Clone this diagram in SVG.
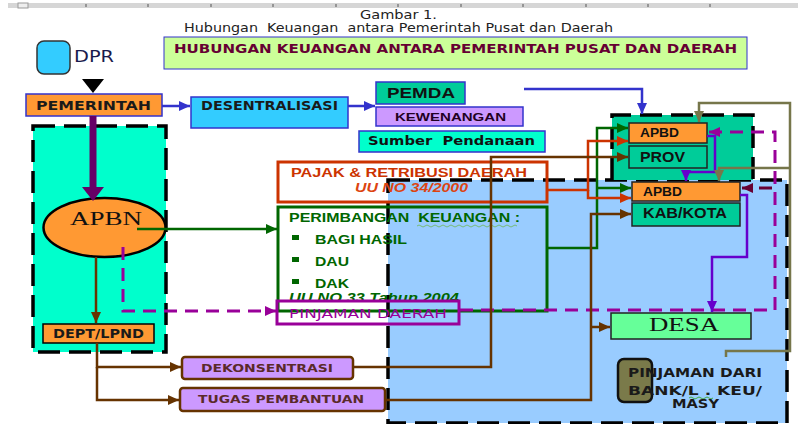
<svg xmlns="http://www.w3.org/2000/svg" width="798" height="424" viewBox="0 0 798 424">
<style>
.sans{font-family:"DejaVu Sans","Verdana",sans-serif}
.arial{font-family:"Liberation Sans","Arial",sans-serif}
.serif{font-family:"Liberation Serif","Times New Roman",serif}
.b{font-weight:bold}
.region{stroke:#000;stroke-width:3.5;stroke-dasharray:22 9}
.ln{fill:none;stroke-width:2.5}
.dash{fill:none;stroke-width:3;stroke-dasharray:13 8}
</style>
<defs>
<marker id="mBlue" markerUnits="userSpaceOnUse" markerWidth="12" markerHeight="10" refX="11" refY="5" orient="auto"><path d="M0,0 L11,5 L0,10 z" fill="#3333cc"/></marker>
<marker id="mGreen" markerUnits="userSpaceOnUse" markerWidth="12" markerHeight="10" refX="11" refY="5" orient="auto"><path d="M0,0 L11,5 L0,10 z" fill="#006600"/></marker>
<marker id="mBrown" markerUnits="userSpaceOnUse" markerWidth="12" markerHeight="10" refX="11" refY="5" orient="auto"><path d="M0,0 L11,5 L0,10 z" fill="#663300"/></marker>
<marker id="mRed" markerUnits="userSpaceOnUse" markerWidth="12" markerHeight="10" refX="11" refY="5" orient="auto"><path d="M0,0 L11,5 L0,10 z" fill="#cc3300"/></marker>
<marker id="mMag" markerUnits="userSpaceOnUse" markerWidth="12" markerHeight="10" refX="11" refY="5" orient="auto"><path d="M0,0 L11,5 L0,10 z" fill="#990099"/></marker>
<marker id="mMaroon" markerUnits="userSpaceOnUse" markerWidth="12" markerHeight="10" refX="11" refY="5" orient="auto"><path d="M0,0 L11,5 L0,10 z" fill="#660033"/></marker>
<marker id="mViolet" markerUnits="userSpaceOnUse" markerWidth="12" markerHeight="10" refX="11" refY="5" orient="auto"><path d="M0,0 L11,5 L0,10 z" fill="#6600cc"/></marker>
<marker id="mOlive" markerUnits="userSpaceOnUse" markerWidth="12" markerHeight="10" refX="11" refY="5" orient="auto"><path d="M0,0 L11,5 L0,10 z" fill="#76764a"/></marker>
</defs>
<rect width="798" height="424" fill="#ffffff"/>
<g id="ruler">
<rect x="8" y="3" width="790" height="5" fill="#d6d6d6"/>
<rect x="18" y="3" width="10" height="5" fill="#eeeeee" stroke="#999" stroke-width="1"/>
<path d="M86,4v3M148,4v3M211,4v3M273,4v3M336,4v3M398,4v3M461,4v3M523,4v3M586,4v3M648,4v3M710,4v3" stroke="#555" stroke-width="1"/>
</g>
<g id="caption">
<text x="360" y="19" class="sans" font-size="12" fill="#222" textLength="77" lengthAdjust="spacingAndGlyphs">Gambar 1.</text>
<text x="184" y="32" class="sans" font-size="12" fill="#222" textLength="429" lengthAdjust="spacingAndGlyphs" xml:space="preserve">Hubungan  Keuangan  antara Pemerintah Pusat dan Daerah</text>
</g>
<g id="title">
<rect x="164" y="37" width="583" height="32" fill="#ccff99" stroke="#3333cc" stroke-width="1"/>
<text x="174" y="53" class="sans b" font-size="13" fill="#660033" textLength="563" lengthAdjust="spacingAndGlyphs">HUBUNGAN KEUANGAN ANTARA PEMERINTAH PUSAT DAN DAERAH</text>
</g>
<g id="region-pusat"><rect x="33" y="126" width="133" height="226" fill="#00ffcc" class="region"/></g>
<g id="region-daerah"><rect x="388" y="180" width="399" height="243" fill="#99ccff" class="region"/></g>
<g id="region-prov"><path d="M612,180 V115 H753 V180" fill="#00cc99" class="region"/></g>

<g id="dpr">
<rect x="37" y="41" width="33" height="33" rx="7" fill="#33ccff" stroke="#333" stroke-width="1.5"/>
<text x="74" y="62" class="sans" font-size="15" fill="#1a1a4d" textLength="40" lengthAdjust="spacingAndGlyphs">DPR</text>
</g>
<g id="pemerintah">
<rect x="26" y="94" width="136" height="22" fill="#ff9933" stroke="#3333cc" stroke-width="1.5"/>
<text x="36" y="110" class="sans b" font-size="11.5" fill="#1a1a1a" textLength="115" lengthAdjust="spacingAndGlyphs">PEMERINTAH</text>
</g>
<g id="desentralisasi">
<rect x="191" y="97" width="157" height="31" fill="#33ccff" stroke="#3333cc" stroke-width="1.5"/>
<text x="201" y="110" class="sans b" font-size="11.5" fill="#1a1a1a" textLength="137" lengthAdjust="spacingAndGlyphs">DESENTRALISASI</text>
</g>
<g id="pemda">
<rect x="376" y="82" width="89" height="22" fill="#00cc99" stroke="#3333cc" stroke-width="1.5"/>
<text x="387" y="98" class="arial b" font-size="14.5" fill="#111" textLength="68" lengthAdjust="spacingAndGlyphs">PEMDA</text>
</g>
<g id="kewenangan">
<rect x="376" y="107" width="147" height="19" fill="#cc99ff" stroke="#3333cc" stroke-width="1.5"/>
<text x="395" y="121" class="arial b" font-size="11.5" fill="#220022" textLength="111" lengthAdjust="spacingAndGlyphs">KEWENANGAN</text>
</g>
<g id="sumber">
<rect x="359" y="131" width="186" height="21" fill="#00ffcc" stroke="#3333cc" stroke-width="1.5"/>
<text x="368" y="145" class="sans b" font-size="12" fill="#111" textLength="167" lengthAdjust="spacingAndGlyphs" xml:space="preserve">Sumber  Pendanaan</text>
</g>

<g id="apbn">
<ellipse cx="104.5" cy="227.5" rx="61" ry="29.5" fill="#ff9933" stroke="#000" stroke-width="2.5"/>
<text x="70" y="225" class="serif" font-size="19" fill="#111" textLength="72" lengthAdjust="spacingAndGlyphs">APBN</text>
</g>
<g id="dept">
<rect x="43" y="324" width="111" height="19" fill="#ff9933" stroke="#000" stroke-width="1.5"/>
<text x="53" y="338" class="sans b" font-size="11.5" fill="#1a1a1a" textLength="91" lengthAdjust="spacingAndGlyphs">DEPT/LPND</text>
</g>
<g id="dekonsentrasi">
<rect x="182" y="357" width="171" height="22" rx="3" fill="#cc99ff" stroke="#663300" stroke-width="2.5"/>
<text x="201" y="372" class="sans b" font-size="11" fill="#5a2a2a" textLength="132" lengthAdjust="spacingAndGlyphs">DEKONSENTRASI</text>
</g>
<g id="tugas">
<rect x="180" y="388" width="205" height="23" rx="3" fill="#cc99ff" stroke="#663300" stroke-width="2.5"/>
<text x="198" y="403" class="sans b" font-size="11" fill="#5a2a2a" textLength="166" lengthAdjust="spacingAndGlyphs">TUGAS PEMBANTUAN</text>
</g>

<g id="pajak">
<rect x="278" y="162" width="269" height="40" fill="none" stroke="#cc3300" stroke-width="3"/>
<text x="291" y="177" class="arial b" font-size="13" fill="#cc3300" textLength="236" lengthAdjust="spacingAndGlyphs">PAJAK &amp; RETRIBUSI DAERAH</text>
<text x="355" y="192" class="arial b" font-size="13" font-style="italic" fill="#dd4411" textLength="113" lengthAdjust="spacingAndGlyphs">UU NO 34/2000</text>
</g>
<g id="perimbangan">
<rect x="278" y="207" width="269" height="104" fill="none" stroke="#006600" stroke-width="3"/>
<text x="289" y="222" class="arial b" font-size="13" fill="#006600" textLength="231" lengthAdjust="spacingAndGlyphs" xml:space="preserve">PERIMBANGAN  KEUANGAN :</text>
<path d="M417,226 q2,-2 4,0 t4,0 t4,0 t4,0 t4,0 t4,0 t4,0 t4,0 t4,0 t4,0 t4,0 t4,0 t4,0 t4,0 t4,0 t4,0 t4,0 t4,0 t4,0 t4,0 t4,0 t4,0 t4,0 t4,0 t4,0" fill="none" stroke="#77bb77" stroke-width="1"/>
<rect x="292" y="235" width="7" height="5" fill="#006600"/>
<rect x="292" y="257" width="7" height="5" fill="#006600"/>
<rect x="292" y="279" width="7" height="5" fill="#006600"/>
<text x="315" y="244" class="arial b" font-size="13" fill="#006600" textLength="92" lengthAdjust="spacingAndGlyphs">BAGI HASIL</text>
<text x="315" y="266" class="arial b" font-size="13" fill="#006600" textLength="34" lengthAdjust="spacingAndGlyphs">DAU</text>
<text x="315" y="288" class="arial b" font-size="13" fill="#006600" textLength="34" lengthAdjust="spacingAndGlyphs">DAK</text>
<text x="289" y="302" class="arial b" font-size="12" font-style="italic" fill="#006600" textLength="170" lengthAdjust="spacingAndGlyphs">UU NO 33 Tahun 2004</text>
</g>
<g id="pinjaman-daerah">
<rect x="277" y="301" width="182" height="23" fill="none" stroke="#990099" stroke-width="3"/>
<text x="289" y="318" class="sans" font-size="12.5" fill="#990099" textLength="158" lengthAdjust="spacingAndGlyphs">PINJAMAN DAERAH</text>
</g>

<g id="apbd-prov">
<rect x="629" y="123" width="78" height="20" fill="#ff9933" stroke="#222" stroke-width="1.5"/>
<text x="640" y="137" class="arial b" font-size="12" fill="#111" textLength="39" lengthAdjust="spacingAndGlyphs">APBD</text>
</g>
<g id="prov">
<rect x="629" y="146" width="78" height="22" fill="#00cc99" stroke="#222" stroke-width="1.5"/>
<text x="640" y="162" class="arial b" font-size="14.5" fill="#111" textLength="45" lengthAdjust="spacingAndGlyphs">PROV</text>
</g>
<g id="apbd-kab">
<rect x="632" y="182" width="108" height="19" fill="#ff9933" stroke="#222" stroke-width="1.5"/>
<text x="643" y="196" class="arial b" font-size="12" fill="#111" textLength="39" lengthAdjust="spacingAndGlyphs">APBD</text>
</g>
<g id="kab-kota">
<rect x="632" y="203" width="108" height="23" fill="#00cc99" stroke="#222" stroke-width="1.5"/>
<text x="643" y="218" class="arial b" font-size="14.5" fill="#111" textLength="84" lengthAdjust="spacingAndGlyphs">KAB/KOTA</text>
</g>
<g id="desa">
<rect x="611" y="313" width="140" height="26" fill="#66ff99" stroke="#222" stroke-width="1.5"/>
<text x="649" y="331" class="serif" font-size="18" fill="#111" textLength="70" lengthAdjust="spacingAndGlyphs">DESA</text>
</g>
<g id="pinjaman-bank">
<rect x="618" y="359" width="34" height="43" rx="6" fill="#7a7a4a" stroke="#111" stroke-width="2.5"/>
<text x="628" y="377" class="sans b" font-size="11.5" fill="#1a1a1a" textLength="134" lengthAdjust="spacingAndGlyphs">PINJAMAN DARI</text>
<text x="628" y="395" class="sans b" font-size="11.5" fill="#1a1a1a" textLength="134" lengthAdjust="spacingAndGlyphs">BANK/L . KEU/</text>
<path d="M689,398 q2,-2 4,0 t4,0 t4,0 t4,0 t4,0 t4,0" fill="none" stroke="#44aa44" stroke-width="1"/>
<text x="672" y="408" class="sans b" font-size="11.5" fill="#1a1a1a" textLength="47" lengthAdjust="spacingAndGlyphs">MASY</text>
</g>

<g id="connectors">
<polygon points="82,79 104,79 93,93" fill="#000"/>
<path d="M93,116 V189" stroke="#660066" stroke-width="7" fill="none"/>
<polygon points="82,187 104,187 93,201" fill="#660066"/>
<path d="M162,106 H190" class="ln" stroke="#3333cc" marker-end="url(#mBlue)"/>
<path d="M348,106 H375" class="ln" stroke="#3333cc" marker-end="url(#mBlue)"/>
<path d="M524,89 H642 V114" class="ln" stroke="#3333cc" marker-end="url(#mBlue)"/>
<path d="M137,229 H277" class="ln" stroke="#006600" marker-end="url(#mGreen)"/>
<path d="M96,257 V323" class="ln" stroke="#663300" marker-end="url(#mBrown)"/>
<path d="M97,343 V367 H181" class="ln" stroke="#663300" marker-end="url(#mBrown)"/>
<path d="M97,367 V400 H179" class="ln" stroke="#663300" marker-end="url(#mBrown)"/>
<path d="M123,247 V311 H276" class="dash" stroke="#990099" marker-end="url(#mMag)"/>
<path d="M460,310 H775 V132 H709" class="dash" stroke="#990099" marker-end="url(#mMag)"/>
<path d="M772,188 H742" class="dash" stroke="#660033" marker-end="url(#mMaroon)"/>
<path d="M547,248 H597 V128 H628" class="ln" stroke="#006600" stroke-width="3" marker-end="url(#mGreen)"/>
<path d="M597,188 H631" class="ln" stroke="#006600" stroke-width="3" marker-end="url(#mGreen)"/>
<path d="M547,190 H588 V141 H628" class="ln" stroke="#cc3300" stroke-width="3" marker-end="url(#mRed)"/>
<path d="M588,190 V198 H631" class="ln" stroke="#cc3300" stroke-width="3" marker-end="url(#mRed)"/>
<path d="M353,367 H491 V157 H628" class="ln" stroke="#663300" marker-end="url(#mBrown)"/>
<path d="M385,400 H591 V214 H631" class="ln" stroke="#663300" marker-end="url(#mBrown)"/>
<path d="M591,327 H610" class="ln" stroke="#663300" marker-end="url(#mBrown)"/>
<path d="M707,136 H715 V172 H686 V181" class="ln" stroke="#6600cc" stroke-width="3" marker-end="url(#mViolet)"/>
<path d="M740,195 H747 V257 H712 V312" class="ln" stroke="#6600cc" stroke-width="3" marker-end="url(#mViolet)"/>
<path d="M726,357 V351 H790 V103 H699 V122" class="ln" stroke="#76764a" stroke-width="3" marker-end="url(#mOlive)"/>
<path d="M790,168 H719 V181" class="ln" stroke="#76764a" stroke-width="3" marker-end="url(#mOlive)"/>
</g>
</svg>
